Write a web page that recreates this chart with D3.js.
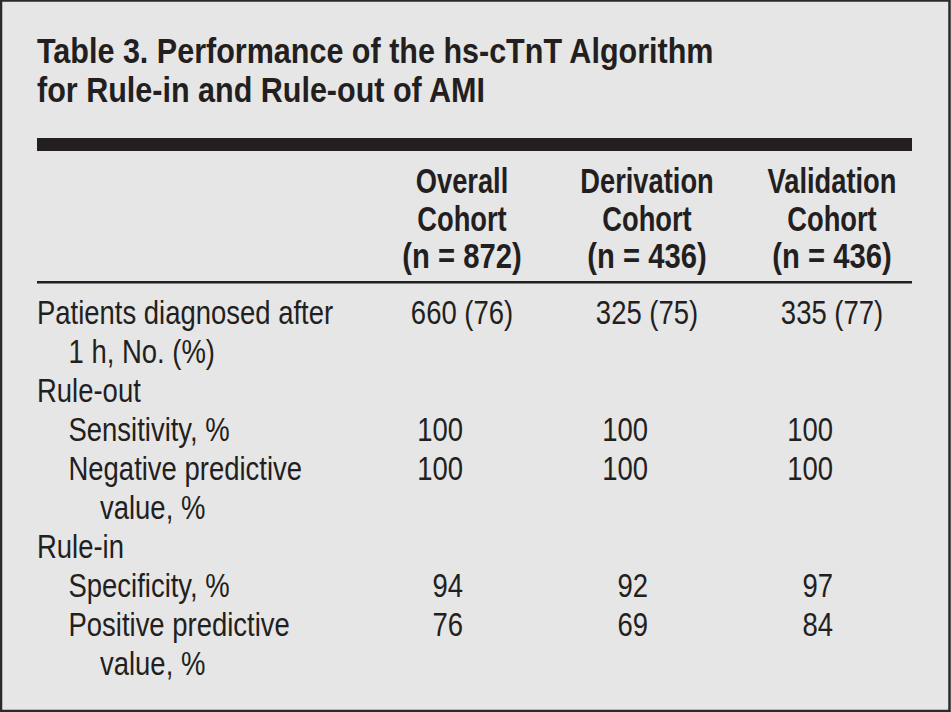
<!DOCTYPE html>
<html>
<head>
<meta charset="utf-8">
<script src="https://cdn.jsdelivr.net/npm/d3@7"></script>
<style>
  html, body { margin: 0; padding: 0; background: #e6e6e6; }
  svg { display: block; }
  text { font-family: "Liberation Sans", Arial, sans-serif; fill: #231f20; }
</style>
</head>
<body>
<svg id="chart" width="951" height="712"></svg>
<script>
// ---- data ----
const titleLines = ["Table 3. Performance of the hs-cTnT Algorithm", "for Rule-in and Rule-out of AMI"];
const columnNames = ["Overall", "Derivation", "Validation"];
const columnSecond = ["Cohort", "Cohort", "Cohort"];
const columnN = [872, 436, 436];
const diagnosedCount = [660, 325, 335];
const diagnosedPct = [76, 75, 77];
const sensitivity = [100, 100, 100];
const npv = [100, 100, 100];
const specificity = [94, 92, 97];
const ppv = [76, 69, 84];
// row labels: [text, indent level]
const rowLabels = [
  ["Patients diagnosed after", 0],
  ["1 h, No. (%)", 1],
  ["Rule-out", 0],
  ["Sensitivity, %", 1],
  ["Negative predictive", 1],
  ["value, %", 2],
  ["Rule-in", 0],
  ["Specificity, %", 1],
  ["Positive predictive", 1],
  ["value, %", 2]
];
const valueRows = [
  { line: 0, values: diagnosedCount.map((d, i) => `${d} (${diagnosedPct[i]})`), mode: "middle" },
  { line: 3, values: sensitivity.map(String), mode: "end" },
  { line: 4, values: npv.map(String), mode: "end" },
  { line: 7, values: specificity.map(String), mode: "end" },
  { line: 8, values: ppv.map(String), mode: "end" }
];

// ---- drawing ----
const W = 951, H = 712;
const SX = 0.845; // horizontal condensing to mimic a condensed face
const headSX = [0.78, 0.78, 0.835];
const svg = d3.select("#chart");
const left = 37, right = 912;

svg.append("rect").attr("x", 1).attr("y", 0.5).attr("width", W - 2.5).attr("height", H - 1.5)
  .attr("fill", "#e6e6e6").attr("stroke", "#2a2a2a").attr("stroke-width", 2.5);

// title
const titleY = d3.scaleLinear().domain([0, 1]).range([63, 102]);
svg.selectAll("text.title").data(titleLines).join("text")
  .attr("class", "title")
  .attr("transform", (d, i) => `translate(${left},${titleY(i)}) scale(0.848,1)`)
  .attr("font-size", 36).attr("font-weight", "bold")
  .text(d => d);

// thick rule
svg.append("rect").attr("x", left).attr("y", 138).attr("width", right - left).attr("height", 13).attr("fill", "#231f20");

// columns
const x = d3.scalePoint().domain(columnNames).range([462, 832]);
const headY = d3.scaleLinear().domain([0, 2]).range([193, 268]);
const headerLines = columnNames.map((c, i) => [c, columnSecond[i], `(n = ${columnN[i]})`]);
headerLines.forEach((lines, ci) => {
  svg.selectAll(null).data(lines).join("text")
    .attr("transform", (d, i) => `translate(${x(columnNames[ci])},${headY(i)}) scale(${headSX[i]},1)`)
    .attr("text-anchor", "middle").attr("font-size", 35).attr("font-weight", "bold")
    .text(d => d);
});

// thin rule
svg.append("rect").attr("x", left).attr("y", 281).attr("width", right - left).attr("height", 2.5).attr("fill", "#231f20");

// body
const y = d3.scaleLinear().domain([0, 9]).range([324, 675]);
const indent = d3.scaleLinear().domain([0, 2]).range([left, 100]);
svg.selectAll("text.label").data(rowLabels).join("text")
  .attr("class", "label")
  .attr("transform", (d, i) => `translate(${indent(d[1])},${y(i)}) scale(${SX},1)`)
  .attr("font-size", 32.5)
  .text(d => d[0]);

valueRows.forEach(r => {
  svg.selectAll(null).data(r.values).join("text")
    .attr("transform", (d, i) => `translate(${r.mode === "middle" ? x(columnNames[i]) : x(columnNames[i]) + 1},${y(r.line)}) scale(${SX},1)`)
    .attr("text-anchor", r.mode)
    .attr("font-size", 32.5)
    .text(d => d);
});
</script>
</body>
</html>
